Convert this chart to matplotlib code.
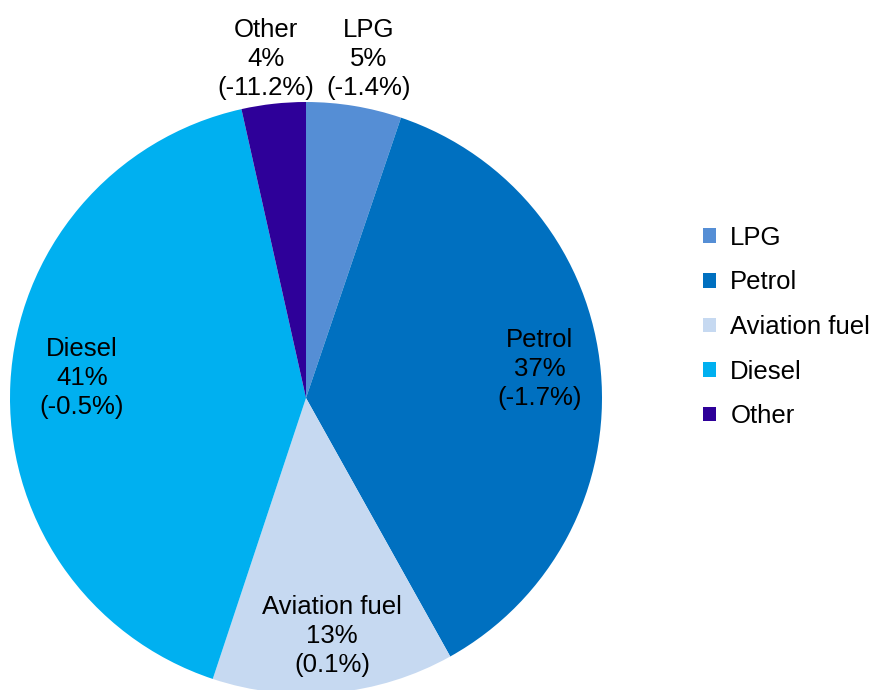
import matplotlib.pyplot as plt
from matplotlib.patches import Patch

plt.rcParams['font.family'] = ['Liberation Sans', 'DejaVu Sans']

fuels = ["LPG", "Petrol", "Aviation fuel", "Diesel", "Other"]
shares = [5.2, 36.7, 13.2, 41.4, 3.5]
share_labels = ["5%", "37%", "13%", "41%", "4%"]
changes = ["-1.4%", "-1.7%", "0.1%", "-0.5%", "-11.2%"]
colors = ["#558ED5", "#0070C0", "#C6D9F1", "#00B0F0", "#2E0099"]

# label placement (pie radius = 1), as laid out in the original chart
label_pos = [(0.21, 1.145), (0.79, 0.098), (0.088, -0.805), (-0.757, 0.068), (-0.135, 1.145)]

fig = plt.figure(figsize=(8.72, 6.9), dpi=100)
ax = fig.add_axes([10 / 872, (690 - 398 - 296) / 690, 592 / 872, 592 / 690])

labels = [f"{f}\n{s}\n({c})" for f, s, c in zip(fuels, share_labels, changes)]
wedges, texts = ax.pie(shares, colors=colors, startangle=90, counterclock=False,
                       labels=labels, labeldistance=0.79,
                       textprops=dict(fontsize=18.5, ha='center', va='center',
                                      linespacing=1.27))
for t, pos in zip(texts, label_pos):
    t.set_ha('center')
    t.set_position(pos)
ax.set_xlim(-1, 1)
ax.set_ylim(-1, 1)
ax.set_aspect('equal')

handles = [Patch(facecolor=c, edgecolor='none') for c in colors]
fig.legend(handles, fuels, loc='center left', bbox_to_anchor=(693 / 872, 1 - 327 / 690),
           frameon=False, fontsize=18.5, handlelength=0.5, handleheight=0.5,
           handletextpad=0.55, labelspacing=0.8, borderaxespad=0.0)

fig.savefig("out.png", dpi=100)
